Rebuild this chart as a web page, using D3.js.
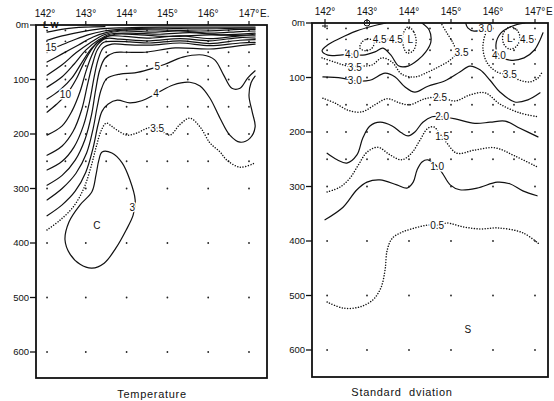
<!DOCTYPE html>
<html>
<head>
<meta charset="utf-8">
<script src="https://cdn.jsdelivr.net/npm/d3@7"></script>
<style>
  body { margin: 0; background: #fff; }
  svg text { font-family: "Liberation Sans", Arial, sans-serif; fill: #111; }
</style>
</head>
<body>
<svg id="chart" width="554" height="401"></svg>
<script>
var lonTicks = [142, 143, 144, 145, 146, 147]
var depthTicks = [0, 100, 200, 300, 400, 500, 600]
var shallowDepths = [10, 30, 50, 75, 100, 150, 200, 250]
var deepDepths = [300, 400, 500, 600]
var halfLons = [142.05, 142.5, 143, 143.5, 144, 144.5, 145, 145.5, 146, 146.5, 147]
var wholeLons = [142.05, 143, 144, 145, 146, 147]

// isotherms, [lon, depth m]
var tempLines = [
  { v: 3.5, pts: [[142.05,376],[142.37,358],[142.7,333],[142.95,300],[143.12,262],[143.25,225],[143.37,195],[143.5,180],[143.62,185],[143.77,193],[144.01,202],[144.26,198],[144.52,189],[144.75,189],[145.06,202],[145.3,183],[145.55,171],[145.8,187],[146.04,216],[146.29,233],[146.46,248],[146.78,261],[147.15,253]] },
  { v: 4, pts: [[142.05,350],[142.42,330],[142.74,305],[143.0,270],[143.18,225],[143.3,183],[143.4,158],[143.55,145],[143.77,138],[144.08,143],[144.37,139],[144.75,125],[145.14,110],[145.55,105],[145.8,112],[146.04,134],[146.29,171],[146.53,202],[146.78,215],[147.02,208],[147.15,187],[147.08,160],[147.0,130],[147.05,106],[147.15,94]] },
  { v: 5, pts: [[142.05,321],[142.42,300],[142.76,272],[143.02,235],[143.18,190],[143.28,150],[143.38,118],[143.52,98],[143.84,90],[144.2,88],[144.57,81],[144.94,72],[145.38,59],[145.87,55],[146.16,64],[146.38,92],[146.58,116],[146.78,116],[146.97,97],[147.15,84]] },
  { v: 6, pts: [[142.05,294],[142.42,276],[142.74,248],[142.98,210],[143.14,165],[143.24,120],[143.34,83],[143.47,61],[143.69,51],[143.96,50],[144.45,50],[145.19,42],[146.04,44],[146.78,38],[147.15,35]] },
  { v: 7, pts: [[142.05,266],[142.42,250],[142.71,224],[142.94,185],[143.1,138],[143.2,97],[143.3,64],[143.43,42],[143.64,35],[143.96,36],[144.57,37],[145.31,33],[146.04,38],[146.78,33],[147.15,32]] },
  { v: 8, pts: [[142.05,239],[142.42,222],[142.69,195],[142.9,155],[143.04,110],[143.16,73],[143.28,46],[143.43,32],[143.72,30],[144.08,31],[144.57,33],[145.31,29],[146.04,34],[146.78,28],[147.15,27]] },
  { v: 9, pts: [[142.05,202],[142.42,185],[142.66,158],[142.86,122],[143.0,86],[143.14,57],[143.28,37],[143.48,25],[143.84,26],[144.57,29],[145.31,25],[146.04,29],[146.78,23],[147.15,24]] },
  { v: 10, pts: [[142.05,160],[142.29,145],[142.54,126],[142.76,100],[142.95,70],[143.13,46],[143.33,29],[143.57,20],[143.96,21],[144.57,24],[145.31,20],[146.04,25],[146.78,20],[147.15,20]] },
  { v: 11, pts: [[142.05,136],[142.37,119],[142.66,97],[142.91,68],[143.15,42],[143.4,26],[143.72,17],[144.33,18],[145.06,21],[146.04,18],[146.78,19],[147.15,17]] },
  { v: 12, pts: [[142.05,114],[142.42,95],[142.71,72],[143.0,46],[143.3,28],[143.59,17],[144.08,15],[144.82,17],[145.55,14],[146.29,18],[147.15,15]] },
  { v: 13, pts: [[142.05,92],[142.42,73],[142.76,51],[143.1,33],[143.45,18],[143.84,11],[144.57,13],[145.31,11],[146.04,15],[146.78,12],[147.15,11]] },
  { v: 14, pts: [[142.05,68],[142.42,53],[142.81,37],[143.18,22],[143.54,13],[143.96,9],[144.82,9],[145.8,11],[146.78,8],[147.15,8]] },
  { v: 15, pts: [[142.05,46],[142.29,40],[142.66,29],[143.05,18],[143.45,11],[143.96,7],[144.82,6],[145.8,7],[146.78,6],[147.15,6]] },
  { v: 16, pts: [[142.05,28],[142.42,20],[142.86,13],[143.35,7],[143.96,5],[144.82,4],[145.8,4],[147.15,4]] },
  { v: 17, pts: [[142.05,13],[142.49,7],[142.98,4],[143.47,3]] }
]
var tempLoops = [
  { v: 3, pts: [[143.4,233],[143.64,235],[143.89,253],[144.08,284],[144.21,321],[144.16,349],[143.99,376],[143.74,409],[143.45,437],[143.15,446],[142.86,439],[142.61,420],[142.49,394],[142.59,361],[142.86,330],[143.15,306],[143.25,275],[143.32,248]] }
]
var tempLabels = [[144.75,189,'3.5'],[144.72,125,'4'],[144.75,77,'5'],[142.5,127,'10'],[142.15,42,'15'],[144.14,334,'3'],[143.27,367,'C']]

// standard deviation isolines, [lon, depth m]
var sdLines = [
  { v: 4.0, pts: [[143.45,0],[143.12,6],[142.74,15],[142.36,28],[142.07,40],[141.93,51],[142.07,59],[142.36,59],[142.64,57],[142.9,59],[143.19,53],[143.38,46],[143.57,59],[143.76,79],[143.98,79],[144.21,68],[144.4,53],[144.52,35],[144.48,13],[144.31,0]] },
  { v: 3.5, pts: [[141.93,64],[142.24,72],[142.55,79],[142.88,79],[143.12,77],[143.36,64],[143.6,72],[143.83,94],[144.14,99],[144.45,90],[144.74,79],[144.98,68],[145.12,55],[145.05,37],[144.9,18],[144.76,0]] },
  { v: 3.0, pts: [[145.35,0],[145.4,9],[145.55,15],[145.68,13]] },
  { v: 3.5, pts: [[145.98,0],[145.83,18],[145.76,46],[145.86,73],[146.1,90],[146.36,95],[146.64,105],[146.88,108],[147.07,101],[147.17,90]] },
  { v: 4.0, pts: [[146.76,0],[146.45,6],[146.19,18],[146.07,40],[146.14,59],[146.4,68],[146.74,64],[146.98,50],[147.12,31],[147.19,18]] },
  { v: 3.0, pts: [[141.95,99],[142.4,101],[142.71,106],[143.07,105],[143.43,92],[143.67,99],[143.9,117],[144.14,127],[144.45,116],[144.86,106],[145.21,90],[145.45,79],[145.69,86],[145.93,105],[146.17,127],[146.52,145],[146.83,141],[147.12,128]] },
  { v: 2.5, pts: [[141.95,138],[142.24,147],[142.55,160],[142.88,163],[143.19,150],[143.48,139],[143.79,147],[144.02,150],[144.38,139],[144.74,136],[145.1,143],[145.45,132],[145.81,128],[146.17,149],[146.64,165],[147.07,172]] },
  { v: 2.0, pts: [[142.05,239],[142.29,251],[142.52,257],[142.76,242],[142.9,211],[143.07,189],[143.31,182],[143.6,189],[143.83,202],[143.98,207],[144.14,200],[144.33,182],[144.55,172],[144.74,172],[145.1,176],[145.57,184],[145.93,182],[146.29,180],[146.64,193],[147.07,209]] },
  { v: 1.5, pts: [[142.05,310],[142.36,301],[142.6,284],[142.79,261],[143.0,237],[143.26,228],[143.55,242],[143.83,251],[144.07,238],[144.26,215],[144.45,193],[144.6,191],[144.74,204],[144.9,220],[145.14,239],[145.57,233],[146.05,229],[146.52,244],[147.05,264]] },
  { v: 1.0, pts: [[142.0,361],[142.43,338],[142.76,306],[143.0,292],[143.31,288],[143.71,297],[143.95,303],[144.1,292],[144.19,270],[144.31,255],[144.45,251],[144.64,261],[144.79,275],[144.98,297],[145.21,306],[145.62,303],[146.1,292],[146.4,295],[146.71,308],[147.05,317]] },
  { v: 0.5, pts: [[142.05,512],[142.43,523],[142.83,521],[143.14,508],[143.33,486],[143.43,453],[143.48,417],[143.6,395],[143.83,384],[144.14,376],[144.43,371],[144.67,371],[144.9,367],[145.29,374],[145.69,378],[146.1,376],[146.71,385],[147.12,407]] }
]
var sdLoops = [
  { v: 4.5, pts: [[142.88,35],[143.02,29],[143.17,35],[143.12,46],[142.98,51],[142.83,46]] },
  { v: 4.5, pts: [[143.98,7],[144.12,17],[144.17,35],[144.1,51],[143.95,55],[143.86,40],[143.86,20]] },
  { v: 4.5, pts: [[146.4,7],[146.57,13],[146.64,26],[146.57,42],[146.4,48],[146.26,39],[146.24,20]] }
]
var sdLabels = [[142.64,57,'4.0'],[143.3,31,'4.5'],[143.69,31,'4.5'],[144.03,31,'L'],[142.71,81,'3.5'],[145.25,55,'3.5'],[145.82,10,'3.0'],[146.14,59,'4.0'],[146.4,28,'L'],[146.81,31,'4.5'],[146.4,95,'3.5'],[142.71,106,'3.0'],[144.74,136,'2.5'],[144.79,172,'2.0'],[144.79,209,'1.5'],[144.67,264,'1.0'],[144.67,371,'0.5'],[145.4,563,'S']]

var svg = d3.select('#chart')

var panels = [
  { frame: [36, 25, 267, 378], xRange: [45, 249], yRange: [25, 352], lines: tempLines, loops: tempLoops, labels: tempLabels,
    title: 'Temperature', titleX: 152, titleY: 398, east: 'E.' },
  { frame: [312, 23, 548, 377], xRange: [325, 535], yRange: [23, 350], lines: sdLines, loops: sdLoops, labels: sdLabels,
    title: 'Standard  dviation', titleX: 402, titleY: 396, east: 'E' }
]

var stations = d3.cross(halfLons, shallowDepths).concat(d3.cross(wholeLons, deepDepths))

panels.forEach(function (p, i) {
  var x = d3.scaleLinear().domain([142, 147]).range(p.xRange)
  var y = d3.scaleLinear().domain([0, 600]).range(p.yRange)
  var f = p.frame
  var g = svg.append('g')

  svg.append('clipPath').attr('id', 'clip' + i)
    .append('rect').attr('x', f[0]).attr('y', f[1]).attr('width', f[2] - f[0]).attr('height', f[3] - f[1])

  var plot = g.append('g').attr('clip-path', 'url(#clip' + i + ')')

  // stations
  plot.selectAll('circle.st').data(stations).enter().append('circle')
    .attr('cx', function (d) { return x(d[0]) })
    .attr('cy', function (d) { return y(d[1]) })
    .attr('r', 0.9).attr('fill', '#222')

  var open = d3.line().x(function (d) { return x(d[0]) }).y(function (d) { return y(d[1]) })
    .curve(d3.curveCatmullRom.alpha(0.5))
  var closed = d3.line().x(function (d) { return x(d[0]) }).y(function (d) { return y(d[1]) })
    .curve(d3.curveCatmullRomClosed.alpha(0.5))

  function styleLine(sel) {
    sel.attr('fill', 'none').attr('stroke', '#111')
      .attr('stroke-width', function (d) { return d.v % 1 ? 1.5 : 1.2 })
      .attr('stroke-linecap', 'round')
      .attr('stroke-dasharray', function (d) { return d.v % 1 ? '0.01 2.7' : null })
  }

  plot.selectAll('path.iso').data(p.lines).enter().append('path')
    .attr('d', function (d) { return open(d.pts) }).call(styleLine)
  plot.selectAll('path.loop').data(p.loops).enter().append('path')
    .attr('d', function (d) { return closed(d.pts) }).call(styleLine)

  // contour labels
  plot.selectAll('text.lab').data(p.labels).enter().append('text')
    .attr('x', function (d) { return x(d[0]) })
    .attr('y', function (d) { return y(d[1]) })
    .attr('dy', '0.35em').attr('text-anchor', 'middle')
    .attr('font-size', 10)
    .attr('stroke', '#fff').attr('stroke-width', 3).attr('paint-order', 'stroke')
    .text(function (d) { return d[2] })

  // frame
  g.append('rect').attr('x', f[0]).attr('y', f[1]).attr('width', f[2] - f[0]).attr('height', f[3] - f[1])
    .attr('fill', 'none').attr('stroke', '#111').attr('stroke-width', 1.8)

  // depth axis
  g.selectAll('line.yt').data(depthTicks).enter().append('line')
    .attr('x1', f[0] - 6).attr('x2', f[0])
    .attr('y1', function (d) { return y(d) }).attr('y2', function (d) { return y(d) })
    .attr('stroke', '#111').attr('stroke-width', 1.3)
  g.selectAll('text.yl').data(depthTicks).enter().append('text')
    .attr('x', f[0] - 7).attr('y', function (d) { return y(d) })
    .attr('dy', '0.35em').attr('text-anchor', 'end')
    .attr('font-family', 'DejaVu Sans').attr('font-size', 9.5)
    .text(function (d) { return d === 0 ? '0m' : d })

  // longitude axis on top
  g.selectAll('line.xt').data(lonTicks).enter().append('line')
    .attr('x1', function (d) { return x(d) }).attr('x2', function (d) { return x(d) })
    .attr('y1', f[1] - 4).attr('y2', f[1])
    .attr('stroke', '#111').attr('stroke-width', 1.2)
  g.selectAll('text.xl').data(lonTicks).enter().append('text')
    .attr('x', function (d) { return x(d) }).attr('y', f[1] - 8)
    .attr('text-anchor', 'middle').attr('font-size', 10)
    .text(function (d) { return d + '°' })
  g.append('text').attr('x', x(147) + 11).attr('y', f[1] - 8)
    .attr('font-size', 10).text(p.east)

  g.append('text').attr('x', p.titleX).attr('y', p.titleY)
    .attr('text-anchor', 'middle').attr('font-family', 'DejaVu Sans')
    .attr('font-size', 11).attr('letter-spacing', 0.7)
    .style('white-space', 'pre')
    .text(p.title)

  if (i === 0) {
    g.append('text').attr('x', x(142) - 2).attr('y', f[1] + 3)
      .attr('font-size', 8.5).attr('font-weight', 'bold').text('L W')
  } else {
    g.append('circle').attr('cx', x(143)).attr('cy', f[1]).attr('r', 3)
      .attr('fill', 'none').attr('stroke', '#111').attr('stroke-width', 1)
    g.append('line').attr('x1', x(142) - 3).attr('x2', x(142) + 3)
      .attr('y1', f[1] + 3).attr('y2', f[1] + 3).attr('stroke', '#111')
    g.append('line').attr('x1', x(142)).attr('x2', x(142))
      .attr('y1', f[1]).attr('y2', f[1] + 5).attr('stroke', '#111')
  }
})
</script>
</body>
</html>
